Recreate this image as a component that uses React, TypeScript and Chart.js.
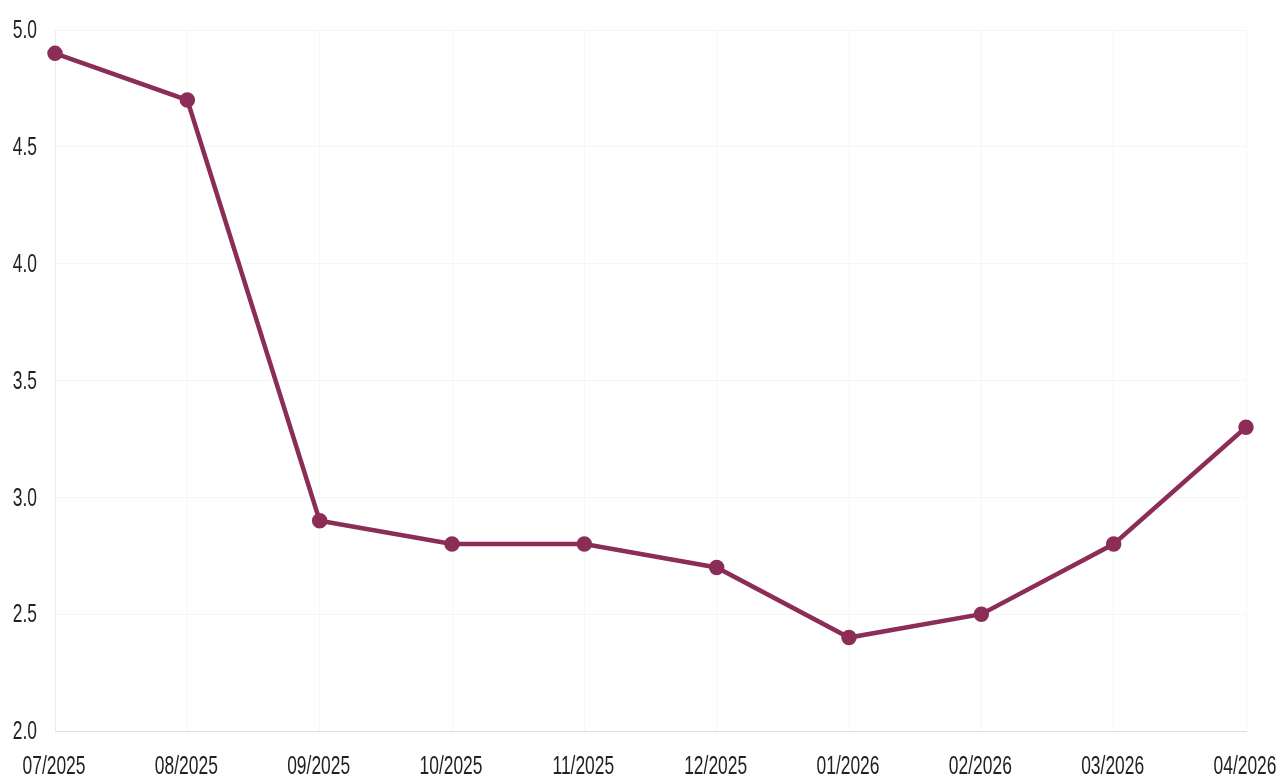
import React, { useEffect, useRef } from "react";
import { Chart, registerables } from "chart.js";

Chart.register(...registerables);

const months = ["07/2025", "08/2025", "09/2025", "10/2025", "11/2025", "12/2025", "01/2026", "02/2026", "03/2026", "04/2026"];
const values = [4.9, 4.7, 2.9, 2.8, 2.8, 2.7, 2.4, 2.5, 2.8, 3.3];
const yTicks = [2.0, 2.5, 3.0, 3.5, 4.0, 4.5, 5.0];

const LINE = "#8b2d57";
const TEXT = "#222";
const FONT = "26px 'Liberation Sans', Arial, sans-serif";
const SQUEEZE = 0.67;

// Draws the axis tick labels in a narrow (horizontally condensed) face, as in the reference.
const narrowLabels = {
  id: "narrowLabels",
  afterDraw(chart: any) {
    const ctx = chart.ctx as CanvasRenderingContext2D;
    const xs = chart.scales.x;
    const ys = chart.scales.y;
    const area = chart.chartArea;
    ctx.save();
    ctx.font = FONT;
    ctx.fillStyle = TEXT;
    // x labels
    ctx.textAlign = "center";
    ctx.textBaseline = "middle";
    months.forEach((m, i) => {
      const px = xs.getPixelForValue(i);
      ctx.save();
      ctx.translate(px - 1, area.bottom + 36);
      ctx.scale(SQUEEZE, 1);
      ctx.fillText(m, 0, 0);
      ctx.restore();
    });
    // y labels
    ctx.textAlign = "right";
    yTicks.forEach((v) => {
      const py = ys.getPixelForValue(v);
      ctx.save();
      ctx.translate(37, py + 1);
      ctx.scale(SQUEEZE, 1);
      ctx.fillText(v.toFixed(1), 0, 0);
      ctx.restore();
    });
    ctx.restore();
  },
};

export default function App() {
  const ref = useRef<HTMLCanvasElement>(null);
  useEffect(() => {
    document.body.style.margin = "0";
    const chart = new Chart(ref.current!, {
      type: "line",
      data: {
        labels: months,
        datasets: [
          {
            data: values,
            borderColor: LINE,
            backgroundColor: LINE,
            borderWidth: 4.5,
            pointRadius: 5.5,
            pointHoverRadius: 5.5,
            tension: 0,
          },
        ],
      },
      options: {
        animation: false,
        responsive: true,
        maintainAspectRatio: false,
        layout: { padding: { top: 30, right: 38, left: 55, bottom: 48 } },
        plugins: { legend: { display: false }, tooltip: { enabled: false } },
        scales: {
          x: {
            offset: false,
            grid: { color: "rgba(0,0,0,0.035)", drawTicks: false },
            border: { color: "rgba(0,0,0,0.1)" },
            ticks: { display: false },
          },
          y: {
            min: 2,
            max: 5,
            afterBuildTicks: (axis: any) => {
              axis.ticks = yTicks.map((v) => ({ value: v }));
            },
            grid: { color: "rgba(0,0,0,0.035)", drawTicks: false },
            border: { color: "rgba(0,0,0,0.05)" },
            ticks: { display: false },
          },
        },
      },
      plugins: [narrowLabels],
    });
    return () => chart.destroy();
  }, []);
  return (
    <div style={{ position: "fixed", left: 0, top: 0, width: 1284, height: 779 }}>
      <canvas ref={ref} />
    </div>
  );
}
